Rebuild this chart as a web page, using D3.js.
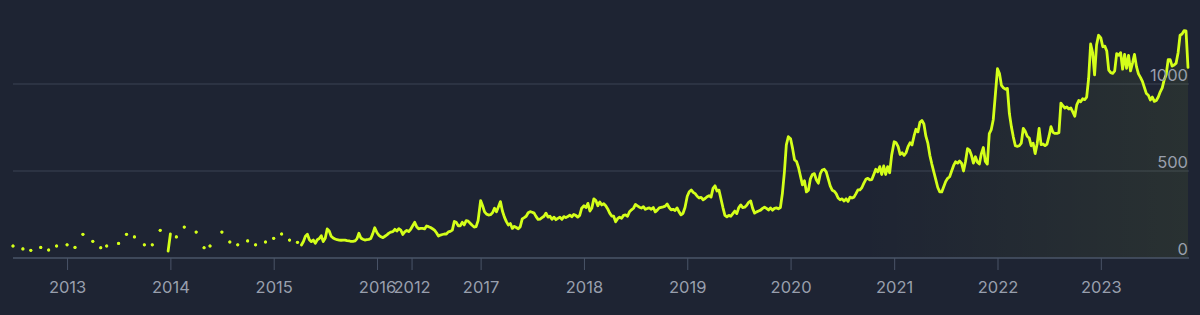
<!DOCTYPE html>
<html>
<head>
<meta charset="utf-8">
<script src="https://cdn.jsdelivr.net/npm/d3@7"></script>
<style>
  html, body { margin: 0; padding: 0; background: #1e2433; }
  #chart-container { width: 1200px; height: 315px; overflow: hidden; }
</style>
</head>
<body>
<div id="chart-container"></div>
<script>
var _ = null;

// weekly values, one array per year, week i = Jan 1 + 7*i (null = no data)
var years = [2012, 2013, 2014, 2015, 2016, 2017, 2018, 2019, 2020, 2021, 2022, 2023];

var values2012 = [
  _, _, _, _, _, _, _, _, _, _, _, _, _,
  _, _, _, _, _, _, _, _, _, _, _, _, 69,
  _, _, _, _, 52, _, _, _, 44, _, _, _, _,
  61, _, _, _, 46, _, _, _, 69, _, _, _, _
];
var values2013 = [
  76, _, _, _, 61, _, _, _, 136, _, _, _, _,
  96, _, _, _, 59, _, _, 69, _, _, _, _, _,
  84, _, _, _, 136, _, _, _, 121, _, _, _, _,
  76, _, _, _, 76, _, _, _, 159, _, _, _, 40
];
var values2014 = [
  138, _, _, 121, _, _, _, 178, _, _, _, _, _,
  149, _, _, _, 59, _, _, 69, _, _, _, _, _,
  149, _, _, _, 92, _, _, _, 76, _, _, _, _,
  98, _, _, _, 76, _, _, _, _, 92, _, _, _
];
var values2015 = [
  113, _, _, _, 138, _, _, _, 103, _, _, _, 90,
  _, 75, 95, 125, 136, 105, 94, 103, 84, 105, 112, 128, 94,
  113, 167, 155, 125, 115, 109, 105, 103, 102, 103, 103, 100, 99,
  95, 95, 98, 110, 142, 115, 108, 103, 105, 107, 112, 140, 174
];
var values2016 = [
  145, 130, 122, 117, 125, 133, 143, 149, 151, 165, 155, 168, 160,
  135, 150, 158, 152, 165, 185, 205, 180, 168, 170, 170, 167, 184,
  180, 175, 168, 160, 145, 126, 132, 135, 138, 138, 150, 153, 160,
  210, 205, 185, 185, 205, 190, 215, 212, 200, 188, 178, 180, 215
];
var values2017 = [
  330, 300, 265, 252, 247, 249, 260, 286, 266, 295, 324, 270, 235,
  209, 190, 198, 170, 182, 175, 168, 180, 225, 232, 240, 260, 266,
  263, 258, 238, 222, 224, 232, 240, 258, 235, 240, 222, 235, 220,
  228, 235, 222, 238, 232, 238, 246, 237, 250, 245, 235, 245, 286
];
var values2018 = [
  300, 290, 314, 270, 288, 340, 330, 300, 322, 305, 312, 300, 282,
  258, 241, 240, 208, 226, 235, 228, 245, 248, 240, 266, 277, 286,
  308, 300, 292, 287, 295, 280, 285, 288, 280, 290, 265, 275, 288,
  291, 294, 298, 310, 290, 277, 280, 273, 288, 265, 248, 257, 290
];
var values2019 = [
  355, 381, 391, 377, 370, 355, 345, 348, 335, 342, 352, 358, 350,
  400, 415, 385, 390, 340, 290, 245, 237, 245, 240, 255, 270, 255,
  290, 305, 290, 292, 303, 320, 328, 285, 258, 265, 270, 275, 285,
  292, 285, 276, 288, 275, 285, 288, 283, 290, 370, 490, 650, 697
];
var values2020 = [
  685, 630, 565, 555, 520, 470, 420, 444, 380, 390, 455, 480, 485,
  450, 430, 485, 506, 510, 495, 455, 414, 390, 384, 370, 345, 335,
  340, 328, 340, 325, 350, 345, 350, 370, 392, 391, 405, 430, 452,
  458, 449, 451, 480, 510, 495, 525, 480, 529, 480, 525, 490, 590
];
var values2021 = [
  668, 662, 640, 595, 605, 590, 605, 640, 662, 650, 700, 740, 725,
  780, 790, 770, 700, 660, 590, 540, 495, 450, 405, 380, 380, 410,
  440, 458, 467, 500, 532, 553, 545, 557, 545, 500, 555, 628, 620,
  590, 545, 582, 550, 540, 600, 635, 555, 540, 715, 738, 795, 930
];
var values2022 = [
  1088, 1060, 992, 978, 970, 975, 830, 755, 695, 645, 642, 645, 660,
  745, 728, 700, 690, 645, 660, 600, 655, 745, 652, 655, 646, 655,
  700, 755, 722, 716, 716, 720, 890, 875, 862, 868, 856, 862, 840,
  815, 880, 905, 898, 915, 910, 925, 1033, 1230, 1180, 1052, 1225, 1280
];
var values2023 = [
  1265, 1214, 1218, 1190, 1080, 1065, 1061, 1075, 1175, 1165, 1180, 1085, 1170,
  1090, 1165, 1075, 1120, 1170, 1100, 1058, 1038, 1015, 980, 945, 935, 908,
  925, 900, 905, 925, 955, 978, 1025, 1055, 1140, 1140, 1103, 1109, 1120,
  1180, 1280, 1287, 1306, 1305, 1095
];

var yTicks = [0, 500, 1000];
var xTickDates = ["2013-01-01", "2014-01-01", "2015-01-01", "2016-01-01", "2016-05-02",
  "2017-01-01", "2018-01-01", "2019-01-01", "2020-01-01", "2021-01-01", "2022-01-01", "2023-01-01"];
var xTickLabels = ["2013", "2014", "2015", "2016", "2012",
  "2017", "2018", "2019", "2020", "2021", "2022", "2023"];

var series = [values2012, values2013, values2014, values2015, values2016, values2017,
  values2018, values2019, values2020, values2021, values2022, values2023];

var svgWidth = 1200;
var svgHeight = 315;
var lineColor = "#d4ff1a";
var textColor = "#989fad";
var fontFamily = "Inter, Roboto, sans-serif";

var data = [];
years.forEach(function (year, k) {
  series[k].forEach(function (v, i) {
    data.push({ date: new Date(year, 0, 1 + 7 * i), value: v });
  });
});
var defined = data.filter(d => d.value !== null);

var svg = d3.select("#chart-container").append("svg")
  .attr("width", svgWidth)
  .attr("height", svgHeight)
  .style("display", "block")
  .style("background", "#1e2433");

var xScale = d3.scaleTime()
  .domain(d3.extent(defined, d => d.date))
  .range([13, 1188]);
var yScale = d3.scaleLinear()
  .domain([0, 1000])
  .range([258, 84]);

var parseDay = d3.timeParse("%Y-%m-%d");

var defs = svg.append("defs");
var grad = defs.append("linearGradient")
  .attr("id", "fade")
  .attr("gradientUnits", "userSpaceOnUse")
  .attr("x1", 13).attr("x2", 1188).attr("y1", 0).attr("y2", 0);
grad.append("stop").attr("offset", "0.72").attr("stop-color", lineColor).attr("stop-opacity", 0);
grad.append("stop").attr("offset", "1").attr("stop-color", lineColor).attr("stop-opacity", 0.06);

// grid lines
svg.append("g").selectAll("line")
  .data(yTicks.filter(t => t > 0))
  .enter().append("line")
  .attr("x1", 13)
  .attr("x2", 1189)
  .attr("y1", d => yScale(d))
  .attr("y2", d => yScale(d))
  .attr("stroke", "#3a4355")
  .attr("stroke-width", 1);

// area under the line
var area = d3.area()
  .defined(d => d.value !== null)
  .x(d => xScale(d.date))
  .y0(yScale(0))
  .y1(d => yScale(d.value));
svg.append("path")
  .datum(data)
  .attr("fill", "url(#fade)")
  .attr("d", area);

// x axis
var xAxis = d3.axisBottom(xScale)
  .tickValues(xTickDates.map(parseDay))
  .tickFormat((d, i) => xTickLabels[i])
  .tickSize(12)
  .tickSizeOuter(0);

var gx = svg.append("g")
  .attr("transform", "translate(0," + yScale(0) + ")")
  .call(xAxis);
gx.select(".domain").remove();
gx.selectAll(".tick line").attr("stroke", "#4a5468").attr("stroke-width", 1);
gx.selectAll(".tick text")
  .attr("fill", textColor)
  .attr("y", 23)
  .attr("dy", "0.71em")
  .style("font-family", fontFamily)
  .style("font-size", "16.5px");

svg.append("line")
  .attr("x1", 13)
  .attr("x2", 1189)
  .attr("y1", yScale(0))
  .attr("y2", yScale(0))
  .attr("stroke", "#4a5468")
  .attr("stroke-width", 1.5);

// line
var line = d3.line()
  .defined(d => d.value !== null)
  .x(d => xScale(d.date))
  .y(d => yScale(d.value));

svg.append("path")
  .datum(data)
  .attr("fill", "none")
  .attr("stroke", lineColor)
  .attr("stroke-width", 2.8)
  .attr("stroke-linejoin", "round")
  .attr("stroke-linecap", "round")
  .attr("d", line);

// isolated weeks show up as dots
var lonely = data.filter(function (d, i) {
  if (d.value === null) return false;
  var prev = data[i - 1], next = data[i + 1];
  return (!prev || prev.value === null) && (!next || next.value === null);
});
svg.append("g").selectAll("circle")
  .data(lonely)
  .enter().append("circle")
  .attr("cx", d => xScale(d.date))
  .attr("cy", d => yScale(d.value))
  .attr("r", 1.6)
  .attr("fill", lineColor);

// y labels on the right, over the line
svg.append("g").selectAll("text")
  .data(yTicks)
  .enter().append("text")
  .attr("x", 1188)
  .attr("y", d => yScale(d) - 3)
  .attr("text-anchor", "end")
  .attr("fill", textColor)
  .style("font-family", fontFamily)
  .style("font-size", "16.5px")
  .text(d => d);
</script>
</body>
</html>
